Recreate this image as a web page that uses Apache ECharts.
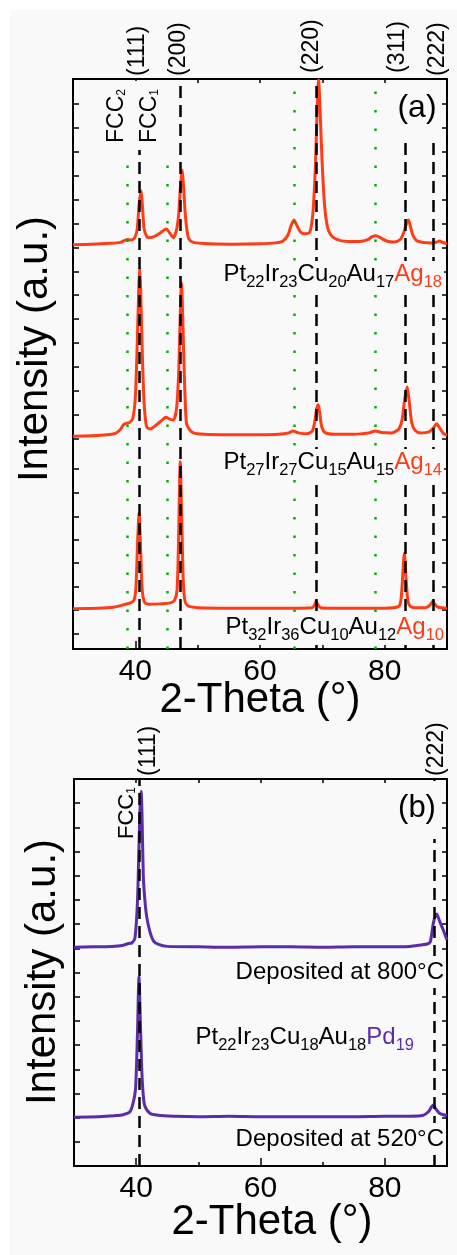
<!DOCTYPE html>
<html><head><meta charset="utf-8">
<script src="https://cdn.jsdelivr.net/npm/echarts@6/dist/echarts.min.js"></script>
<style>
html,body{margin:0;padding:0;background:#fff;}
#bg{position:absolute;left:10px;top:10px;width:447px;height:1245px;background:#f9f9f9;}
#chart{position:absolute;left:0;top:0;width:457px;height:1255px;}
</style></head><body><div id="bg"></div><div id="chart"></div>
<script>
// ---------------- data ----------------
const xMin = 30, xMax = 90;
const xTickLabels = [40, 60, 80];
const xMinorTicks = [50, 70];
const yTicksA = [3.2, 8.2, 13.1, 18.1, 22.9, 27.8, 32.8, 37.9, 44.2, 49.3, 54.3, 59.4, 64.4, 69.5, 74.5, 79.4, 84.4, 89.5, 94.5, 99.6, 104.6, 109.7, 114.7];
const yTicksB = [5, 10, 15, 20, 25, 30, 35, 40, 45, 50, 55, 60, 65, 70, 75];

// panel (a): 2-theta (deg), intensity (a.u., stacked)
const ag18 = [[30,85.1],[33,85.2],[36,85.4],[37.6,85.6],[38.3,86.0],[38.7,86.2],[39.3,86.1],[39.9,86.6],[40.3,88.4],[40.6,93.5],[40.9,96.4],[41.15,93],[41.4,88.5],[41.8,86.9],[42.2,86.6],[43.0,86.8],[43.8,87.4],[44.5,88.1],[45.0,88.4],[45.5,87.6],[46.1,86.6],[46.6,88.2],[46.95,91.5],[47.25,97.5],[47.5,100.8],[47.75,97],[48.0,91.8],[48.3,88],[48.6,86.3],[49.3,85.6],[52,85.3],[56,85.2],[60,85.3],[62.5,85.5],[63.7,85.9],[64.5,87.2],[65.0,89.2],[65.45,90.3],[65.9,89.2],[66.5,87.8],[67.2,87.4],[68.0,87.8],[68.5,92],[68.9,102],[69.15,113],[69.4,119.8],[69.65,113],[69.95,103],[70.35,93.5],[70.8,89],[71.3,87.3],[72.2,86.3],[74,85.8],[76,85.8],[77.3,86.2],[78.0,86.8],[78.6,87.0],[79.3,86.6],[80.3,85.9],[81.5,85.7],[82.5,86.2],[83.1,87.8],[83.5,89.6],[83.8,90.3],[84.1,89.2],[84.5,87.2],[85.1,86.0],[86.2,85.6],[87.5,85.5],[88.4,85.7],[88.8,85.9],[89.3,85.6],[90,85.3]];
const ag14 = [[30,44.8],[33,44.9],[35.5,45.1],[36.8,45.4],[37.6,46.2],[38.1,47.2],[38.5,47.5],[39.1,47.7],[39.6,48.6],[40.0,53],[40.3,64],[40.55,76],[40.7,80.2],[40.85,76],[41.1,63],[41.4,52],[41.8,46.8],[42.4,46.3],[43.4,47.2],[44.3,48.2],[44.9,48.8],[45.5,48.4],[46.1,48.2],[46.6,50.5],[46.95,58],[47.2,70],[47.4,77],[47.6,70],[47.85,58],[48.2,47.5],[48.7,46.2],[49.3,45.5],[51,45.2],[55,45.1],[60,45.1],[63,45.2],[64.6,45.5],[65.3,45.9],[66.2,45.5],[67.5,45.3],[68.4,45.9],[68.8,48],[69.1,50.6],[69.35,51.4],[69.6,49.5],[69.9,46.8],[70.4,45.6],[72,45.2],[75,45.2],[77.5,45.5],[78.5,45.9],[79.5,45.6],[81,45.5],[82.2,46.2],[82.8,48.3],[83.2,52.5],[83.6,55.2],[83.95,52],[84.35,47.6],[84.9,46],[85.8,45.5],[87.1,45.7],[87.8,46.5],[88.35,47.4],[88.8,46.6],[89.4,45.4],[90,45.0]];
const ag10 = [[30,8.5],[34,8.6],[36.5,8.8],[38.1,9.3],[39.2,9.7],[39.8,10.3],[40.1,13],[40.35,22],[40.6,28.6],[40.85,21],[41.1,12.5],[41.5,9.8],[42.4,9.4],[44,9.5],[45.6,9.7],[46.3,10.3],[46.7,12.5],[46.95,24],[47.2,39.4],[47.45,27],[47.7,14],[48.0,9.9],[48.6,9.0],[50,8.7],[55,8.6],[60,8.6],[65,8.6],[68.4,8.7],[68.8,9.4],[69.0,10.1],[69.25,9.4],[69.7,8.7],[72,8.6],[76,8.6],[80,8.6],[82.2,8.9],[82.6,10.2],[82.9,15.5],[83.15,20.1],[83.4,15.5],[83.7,10.4],[84.1,9.0],[85,8.7],[86.5,8.7],[87.3,9.3],[87.7,10.0],[88.1,9.3],[88.6,8.8],[90,8.6]];

// panel (b)
const pd800 = [[30,45.2],[33,45.3],[36,45.4],[37.8,45.6],[38.8,46.0],[39.3,46.1],[39.8,47.1],[40.2,54.4],[40.45,66],[40.65,75],[40.8,77.4],[40.95,72],[41.15,60],[41.4,55],[41.7,51.5],[42.2,48.5],[42.8,46.5],[43.6,45.8],[45,45.4],[50,45.3],[55,45.2],[60,45.3],[65,45.3],[70,45.2],[75,45.3],[80,45.3],[84,45.4],[85.8,45.7],[86.8,45.9],[87.3,46.3],[87.8,50.2],[88.1,51.6],[88.35,52.1],[88.7,51.0],[89.0,50.0],[89.4,48.8],[90,46.7]];
const pd520 = [[30,10.1],[34,10.2],[36.5,10.4],[37.9,10.6],[39.0,11.2],[39.5,13],[39.9,16],[40.2,27],[40.45,39.1],[40.65,31],[40.9,20],[41.15,14.5],[41.4,12.4],[42.2,10.9],[43.5,10.5],[46,10.3],[50,10.2],[55,10.3],[60,10.2],[65,10.2],[70,10.2],[75,10.2],[80,10.3],[84,10.3],[86.2,10.5],[87.0,11.2],[87.5,12.2],[87.8,12.6],[88.2,11.8],[88.8,10.9],[89.4,10.6],[90,10.4]];

// reference peak positions
const fcc1LinesA = [40.64, 47.28, 68.99, 83.38, 87.8];
const fcc2LinesA = [38.71, 45.13, 65.46, 78.56];
const fcc1LinesB = [40.5, 87.9];
const hklA = ['(111)', '(200)', '(220)', '(311)', '(222)'];
const hklB = ['(111)', '(222)'];

// ---------------- style ----------------
const RED = '#ff3c16', PURPLE = '#5b2ca8', GREEN = '#00b000', BG = '#f9f9f9';
const FAM = '"Liberation Sans", Arial, Helvetica, sans-serif';

function hasFont(name){
  const c = document.createElement('canvas').getContext('2d');
  c.font = '72px monospace'; const a = c.measureText('FCCmmwwii').width;
  c.font = '72px "' + name + '", monospace'; const b = c.measureText('FCCmmwwii').width;
  return Math.abs(a - b) > 0.5;
}
const narrow = hasFont('Liberation Sans Narrow');
const FAMN = narrow ? '"Liberation Sans Narrow", ' + FAM : FAM;
const fccSizeA = narrow ? 25 : 23;
const fccSizeB = narrow ? 24.5 : 22;

const chart = echarts.init(document.getElementById('chart'), null, {renderer: 'canvas'});

const grids = [
  {left: 73, top: 79, width: 374, height: 570},
  {left: 74, top: 779, width: 373, height: 387}
];
const yMax = [120, 80];
const yTicks = [yTicksA, yTicksB];

const xAxes = [], yAxes = [];
grids.forEach((g, gi) => {
  xAxes.push({type: 'value', gridIndex: gi, min: xMin, max: xMax, position: 'bottom',
    axisLine: {show: true, onZero: false, lineStyle: {color: '#000', width: 2}},
    axisTick: {show: true, inside: true, length: 8, customValues: xTickLabels, lineStyle: {color: '#000', width: 1.5}},
    axisLabel: {show: true, customValues: xTickLabels, fontSize: 30, color: '#000', margin: 8, fontFamily: FAM},
    splitLine: {show: false}});
  xAxes.push({type: 'value', gridIndex: gi, min: xMin, max: xMax, position: 'bottom',
    axisLine: {show: false},
    axisTick: {show: true, inside: true, length: 4, customValues: xMinorTicks, lineStyle: {color: '#000', width: 1.5}},
    axisLabel: {show: false}, splitLine: {show: false}});
  xAxes.push({type: 'value', gridIndex: gi, min: xMin, max: xMax, position: 'top',
    axisLine: {show: true, onZero: false, lineStyle: {color: '#000', width: 2}},
    axisTick: {show: true, inside: true, length: 4, customValues: xTickLabels.concat(xMinorTicks), lineStyle: {color: '#000', width: 1.5}},
    axisLabel: {show: false}, splitLine: {show: false}});
  yAxes.push({type: 'value', gridIndex: gi, min: 0, max: yMax[gi], position: 'left',
    axisLine: {show: true, onZero: false, lineStyle: {color: '#000', width: 2}},
    axisTick: {show: true, inside: true, length: 6, customValues: yTicks[gi], lineStyle: {color: '#000', width: 1.5}},
    axisLabel: {show: false}, splitLine: {show: false}});
  yAxes.push({type: 'value', gridIndex: gi, min: 0, max: yMax[gi], position: 'right',
    axisLine: {show: true, onZero: false, lineStyle: {color: '#000', width: 2}},
    axisTick: {show: true, inside: true, length: 5, customValues: yTicks[gi], lineStyle: {color: '#000', width: 1.5}},
    axisLabel: {show: false}, splitLine: {show: false}});
});

function curve(name, data, color, xi, yi){
  return {name, type: 'line', data, xAxisIndex: xi, yAxisIndex: yi, showSymbol: false, symbol: 'none',
    smooth: 0.25, lineStyle: {color, width: 3}, z: 3, animation: false, clip: true};
}
function vlines(xs, color, type, width, xi, yi){
  return {type: 'line', data: [], xAxisIndex: xi, yAxisIndex: yi, z: 6, silent: true, animation: false,
    markLine: {symbol: ['none', 'none'], silent: true, animation: false, label: {show: false},
      lineStyle: {color, type, width}, emphasis: {disabled: true},
      data: xs.map(v => ({xAxis: v}))}};
}

const series = [
  curve('Pt22Ir23Cu20Au17Ag18', ag18, RED, 0, 0),
  curve('Pt27Ir27Cu15Au15Ag14', ag14, RED, 0, 0),
  curve('Pt32Ir36Cu10Au12Ag10', ag10, RED, 0, 0),
  vlines(fcc2LinesA, GREEN, [2.5, 16], 2.5, 0, 0),
  vlines(fcc1LinesA, '#000', [12, 7], 2.5, 0, 0),
  curve('Deposited at 800°C', pd800, PURPLE, 3, 2),
  curve('Deposited at 520°C', pd520, PURPLE, 3, 2),
  vlines(fcc1LinesB, '#000', [12, 7], 2.5, 3, 2)
];

// ---------------- annotations ----------------
function rot(text, x, y, size, align){
  return {type: 'text', x, y, rotation: Math.PI / 2, z: 100, silent: true,
    style: {text: '{t|' + text + '}', align: align || 'left', verticalAlign: 'middle',
      rich: {t: {fontSize: size, fontFamily: FAM, fill: '#000', lineHeight: size}}}};
}
function fcc(sub, x, y, size){
  return {type: 'text', x, y, rotation: Math.PI / 2, z: 101, silent: true,
    style: {text: '{m|FCC}{s|' + sub + '}', align: 'left', verticalAlign: 'middle', fill: '#000',
      rich: {m: {fontSize: size, fontFamily: FAMN, fill: '#000', verticalAlign: 'bottom'},
             s: {fontSize: 12, fontFamily: FAM, fill: '#000', verticalAlign: 'bottom'}}}};
}
function formula(parts, accent, x, y){
  let t = '';
  parts.forEach((p, i) => {
    const last = i === parts.length - 1;
    t += '{' + (last ? 'r' : 'm') + '|' + p[0] + '}{' + (last ? 'rs' : 's') + '|' + p[1] + '}';
  });
  const main = {fontSize: 24, fontFamily: FAM, verticalAlign: 'bottom', padding: [0, 0, 5, 0]};
  const sub = {fontSize: 16.5, fontFamily: FAM, verticalAlign: 'bottom'};
  return {type: 'text', x, y, z: 100, silent: true,
    style: {text: t, align: 'right', verticalAlign: 'middle', backgroundColor: BG, padding: [1, 2, 1, 2],
      rich: {m: Object.assign({fill: '#000'}, main), s: Object.assign({fill: '#000'}, sub),
             r: Object.assign({fill: accent}, main), rs: Object.assign({fill: accent}, sub)}}};
}
function plain(text, x, y, size, align, pad){
  return {type: 'text', x, y, z: 100, silent: true,
    style: {text: '{t|' + text + '}', align: align || 'center', verticalAlign: 'middle',
      backgroundColor: pad ? BG : 'transparent', padding: pad || 0,
      rich: {t: {fontSize: size, fontFamily: FAM, fill: '#000', lineHeight: size}}}};
}
function box(x, y, w, h){
  return {type: 'rect', shape: {x, y, width: w, height: h}, z: 99, silent: true, style: {fill: BG}};
}

const hklPosA = [[137.4, 76], [178.4, 76], [311.4, 73], [397.4, 73], [437.4, 76]];
const hklPosB = [[148.5, 776], [436.5, 776]];

const graphic = [
  rot('Intensity (a.u.)', 35.5, 349, 42, 'center'),
  rot('Intensity (a.u.)', 43, 972, 42, 'center'),
  plain('2-Theta (°)', 260, 700, 42),
  plain('2-Theta (°)', 272, 1222, 42),
  box(104, 81, 67, 69),
  box(392, 81, 50, 60),
  box(392, 781, 50, 58),
  fcc('2', 116.3, 143, fccSizeA),
  fcc('1', 149.3, 143, fccSizeA),
  fcc('1', 126.5, 839, fccSizeB),
  plain('(a)', 417, 108, 32),
  plain('(b)', 417, 808, 31),
  formula([['Pt', '22'], ['Ir', '23'], ['Cu', '20'], ['Au', '17'], ['Ag', '18']], RED, 444, 276.6),
  formula([['Pt', '27'], ['Ir', '27'], ['Cu', '15'], ['Au', '15'], ['Ag', '14']], RED, 444, 464.6),
  formula([['Pt', '32'], ['Ir', '36'], ['Cu', '10'], ['Au', '12'], ['Ag', '10']], RED, 446, 629.6),
  formula([['Pt', '22'], ['Ir', '23'], ['Cu', '18'], ['Au', '18'], ['Pd', '19']], PURPLE, 416, 1039.6),
  plain('Deposited at 800°C', 446, 972, 24, 'right', [4, 2, 4, 2]),
  plain('Deposited at 520°C', 446, 1139, 24, 'right', [4, 2, 4, 2])
];
hklA.forEach((t, i) => graphic.push(rot(t, hklPosA[i][0], hklPosA[i][1], 23)));
hklB.forEach((t, i) => graphic.push(rot(t, hklPosB[i][0], hklPosB[i][1], 23)));

chart.setOption({
  animation: false,
  backgroundColor: 'transparent',
  textStyle: {fontFamily: FAM},
  grid: grids.map(g => Object.assign({containLabel: false}, g)),
  xAxis: xAxes,
  yAxis: yAxes,
  series,
  graphic: {elements: graphic}
});
</script></body></html>
